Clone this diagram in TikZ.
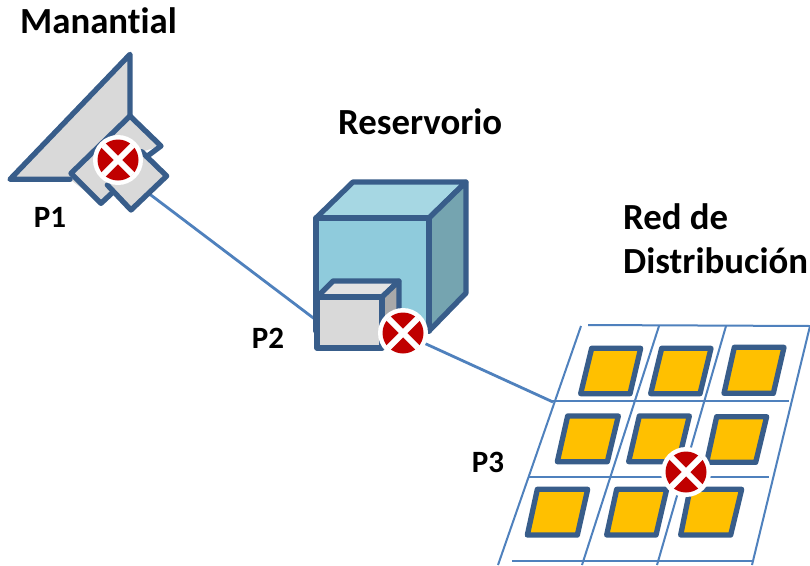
\documentclass[tikz,border=0pt]{standalone}
\usepackage{fontspec}
\setmainfont[Ligatures=NoCommon]{Carlito}
\definecolor{strk}{HTML}{385D8A}
\definecolor{wire}{HTML}{4F81BD}
\definecolor{cfront}{HTML}{8FCBDC}
\definecolor{ctop}{HTML}{A6D7E3}
\definecolor{cside}{HTML}{75A4B0}
\definecolor{gface}{HTML}{D9D9D9}
\definecolor{gtop}{HTML}{E3E3E3}
\definecolor{gside}{HTML}{A9A9A9}
\definecolor{lot}{HTML}{FFC000}
\definecolor{vred}{HTML}{C00000}
\tikzset{
  x=1pt,y=-1pt,
  solid/.style={draw=strk,line width=5.3pt,line join=round,line cap=round},
  lotbox/.style={draw=strk,fill=lot,line width=5.3pt,line join=round},
  gridline/.style={draw=wire,line width=2pt},
  pipe/.style={draw=wire,line width=2.8pt},
  title/.style={font=\bfseries\fontsize{36.8}{42}\selectfont,anchor=base west,inner sep=0pt},
  plabel/.style={font=\bfseries\fontsize{31}{34}\selectfont,anchor=center,inner sep=0pt},
  valvedisc/.style={circle,fill=white,minimum size=50pt,inner sep=0pt},
  valvered/.style={circle,fill=vred,minimum size=41pt,inner sep=0pt},
  valvecross/.style={draw=white,line width=6pt},
}
\newcommand{\valvemark}[3]{%
  \node[valvedisc] (#1) at (#2,#3) {};
  \node[valvered] (#1r) at (#2,#3) {};
  \draw[valvecross] (#1r.45) -- (#1r.225) (#1r.135) -- (#1r.315);
}
\begin{document}
\begin{tikzpicture}
\useasboundingbox[fill=white] (0,0) rectangle (810,565);
% connector end points
\coordinate (a1) at (131,180);
\coordinate (a2) at (316,320);
\coordinate (b1) at (402,333);
\coordinate (b2) at (553,402);
\draw[pipe] (a1) -- (a2);
\draw[pipe] (b1) -- (b2);
% spring
\begin{scope}[shift={(0,40)},scale=1/3]
  \fill[gface] (390,43) -- (30,418) -- (210,418) -- (303,490) -- (335,460) -- (393,510) -- (500,408) -- (425,335) -- (483,318) -- (390,228) -- cycle;
  \draw[solid] (390,228) -- (390,43) -- (30,418) -- (210,418);
  \draw[solid] (335,460) -- (303,490) -- (213,400) -- (390,228) -- (483,318) -- (440,350);
  \draw[solid] (322,435) -- (393,510) -- (500,408) -- (425,335);
\end{scope}
% reservoir
\draw[solid,fill=ctop] (316,218) -- (353,182) -- (466,182) -- (429,218) -- cycle;
\draw[solid,fill=cside] (429,218) -- (466,182) -- (466,293) -- (429,331) -- cycle;
\draw[solid,fill=cfront] (316,218) rectangle (429,331);
\draw[solid,fill=gtop] (317,297) -- (333,281) -- (399,281) -- (382,297) -- cycle;
\draw[solid,fill=gside] (382,297) -- (399,281) -- (399,332) -- (382,348) -- cycle;
\draw[solid,fill=gface] (317,297) rectangle (382,348);
% distribution grid
\draw[gridline] (581,326) -- (498,565);
\draw[gridline] (659,326) -- (582,565);
\draw[gridline] (726,326) -- (657,565);
\draw[gridline] (810,326) -- (752,565);
\draw[gridline] (588,325) -- (810,326);
\draw[gridline] (552,401) -- (789,401);
\draw[gridline] (528,477) -- (769,477);
\draw[gridline] (512,561) -- (752,561);
\begin{scope}[shift={(490,315)},scale=1/3]
  \foreach \xa/\ya/\xb/\xc/\yc/\xd in {
    305/100/452/420/236/272, 515/100/663/630/236/482, 733/97/882/850/235/702,
    233/303/385/352/440/202, 448/303/598/565/440/416, 680/305/830/797/442/650,
    142/523/293/262/660/112, 380/523/530/498/660/350, 600/523/755/722/660/572}
    \draw[lotbox] (\xa,\ya) -- (\xb,\ya) -- (\xc,\yc) -- (\xd,\yc) -- cycle;
\end{scope}
% valves
\valvemark{v1}{118}{160}
\valvemark{v2}{403}{333}
\valvemark{v3}{686}{472}
% labels
\node[title] (t1) at (20,33) {Manantial};
\node[title] (t2) at (338,134) {Reservorio};
\node[title] (t3) at (623,229) {Red de};
\node[title] (t4) at (623,273) {Distribución};
\node[plabel] (p1) at (50,217) {P1};
\node[plabel] (p2) at (268,338) {P2};
\node[plabel] (p3) at (488,462) {P3};
\end{tikzpicture}
\end{document}
